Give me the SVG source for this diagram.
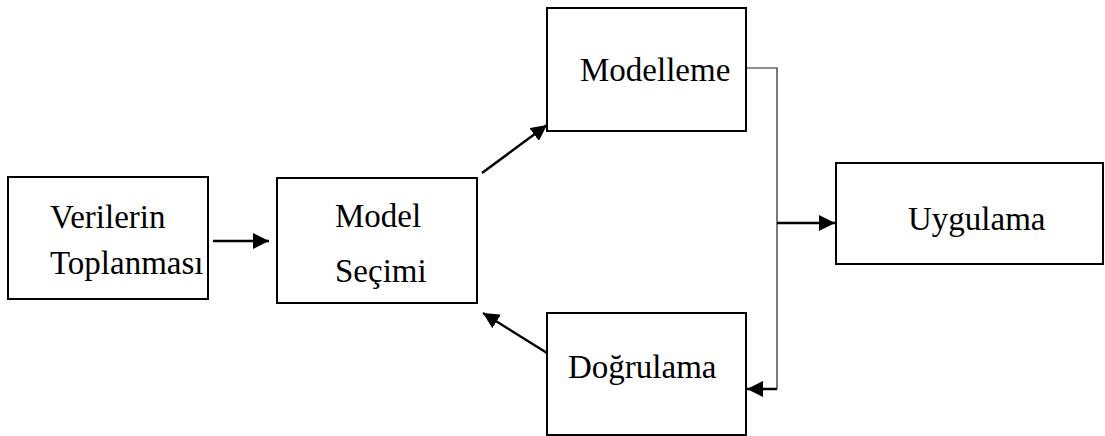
<svg xmlns="http://www.w3.org/2000/svg" width="1105" height="436" viewBox="0 0 1105 436">
<style>
.box{fill:#fff;stroke:#000;stroke-width:2}
.t{font-family:"Liberation Serif","Times New Roman",serif;font-size:33px;fill:#000}
.c{fill:none;stroke:#000;stroke-width:2.5}
.thin{fill:none;stroke:#222;stroke-width:1.2}
</style>
<defs>
<marker id="ah" markerUnits="userSpaceOnUse" markerWidth="18" markerHeight="16" refX="16" refY="8" orient="auto">
<path d="M0,0 L16,8 L0,16 Z" fill="#000"/>
</marker>
</defs>
<rect width="1105" height="436" fill="#fff"/>
<g id="connectors">
<line class="c" x1="213" y1="241" x2="269" y2="241" marker-end="url(#ah)"/>
<line class="c" x1="482" y1="173" x2="547" y2="125" marker-end="url(#ah)"/>
<line class="c" x1="547" y1="353" x2="483" y2="313" marker-end="url(#ah)"/>
<polyline class="thin" points="746,68 777,68 777,389"/>
<line class="c" x1="777" y1="389" x2="747" y2="389" marker-end="url(#ah)"/>
<line class="c" x1="777" y1="223" x2="835" y2="223" marker-end="url(#ah)"/>
</g>
<g id="verilerin">
<rect class="box" x="8" y="177" width="200" height="122"/>
<text class="t" x="50" y="228">Verilerin</text>
<text class="t" x="50" y="274">Toplanması</text>
</g>
<g id="model">
<rect class="box" x="277" y="178" width="200" height="125"/>
<text class="t" x="335" y="227">Model</text>
<text class="t" x="335" y="282">Seçimi</text>
</g>
<g id="modelleme">
<rect class="box" x="547" y="8" width="199" height="123"/>
<text class="t" x="580" y="81">Modelleme</text>
</g>
<g id="dogrulama">
<rect class="box" x="547" y="313" width="199" height="122"/>
<text class="t" x="568" y="378">Doğrulama</text>
</g>
<g id="uygulama">
<rect class="box" x="836" y="163" width="267" height="101"/>
<text class="t" x="908" y="230">Uygulama</text>
</g>
</svg>
